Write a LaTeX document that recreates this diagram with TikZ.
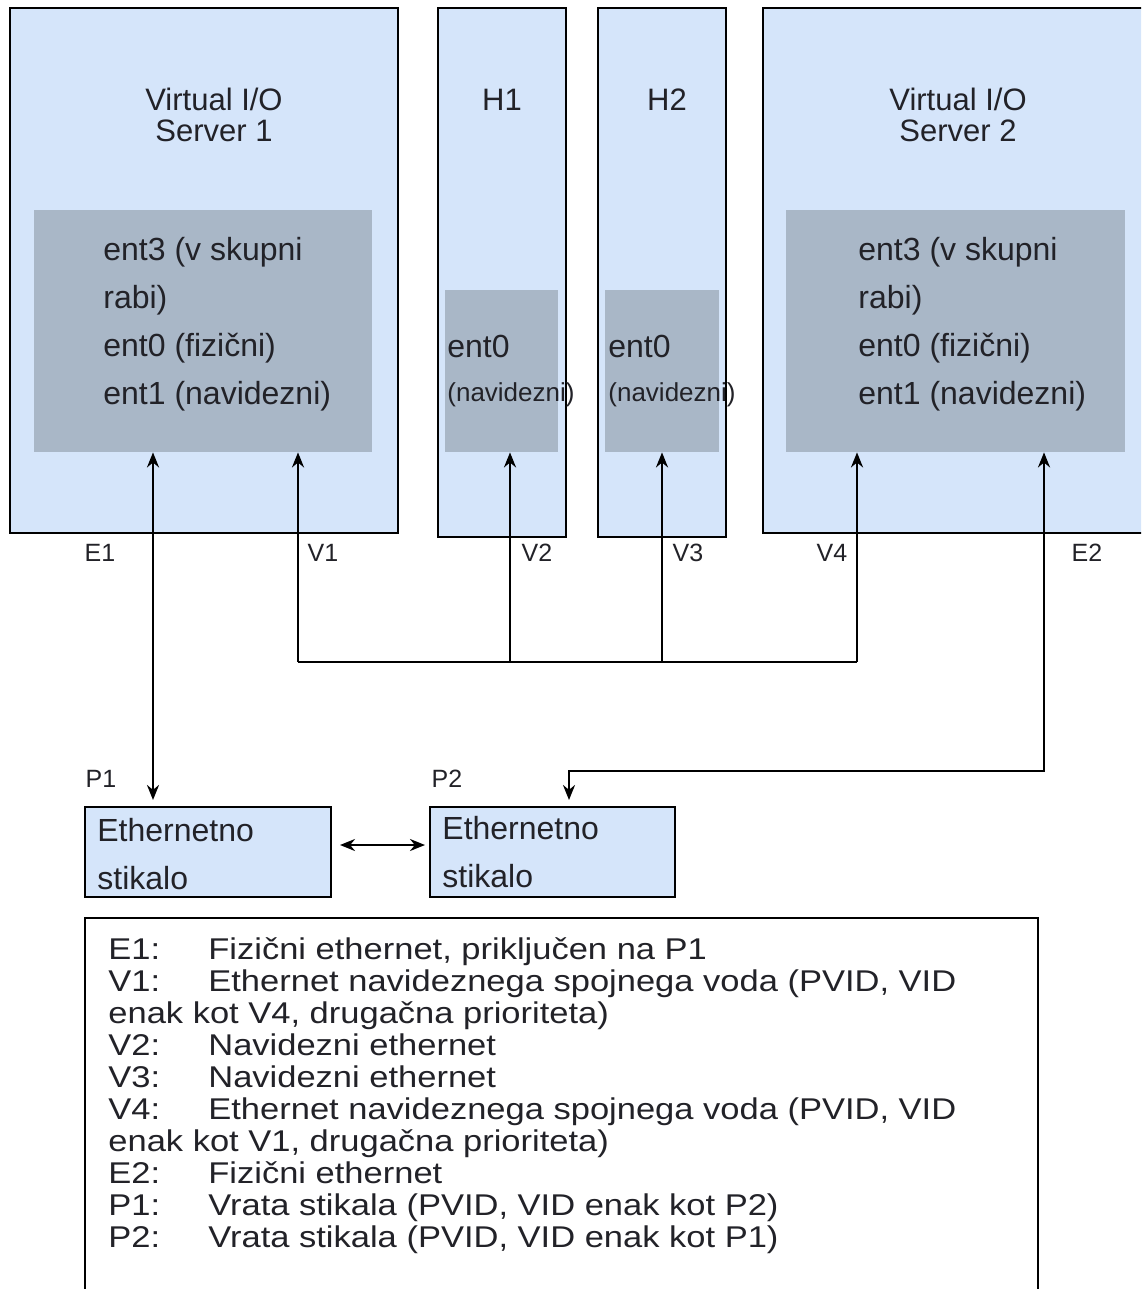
\documentclass[tikz,border=0pt]{standalone}
\usepackage{fontspec}
\setmainfont{Liberation Sans}
\newfontfamily\legfont[FakeStretch=1.15]{Liberation Sans}
\usetikzlibrary{arrows.meta, positioning}
\definecolor{viosblue}{HTML}{D5E5FA}
\definecolor{entgrey}{HTML}{A9B7C7}
\definecolor{ink}{HTML}{222228}
\newcommand{\legkey}[1]{\makebox[50pt][l]{#1}}

\begin{document}
\begin{tikzpicture}[
    x=0.5pt, y=-0.5pt,
    box/.style={draw=black, fill=viosblue, line width=1pt, inner sep=0pt},
    ent/.style={fill=entgrey, inner sep=0pt},
    title/.style={align=center, text=ink, font=\fontsize{15.5}{15.5}\selectfont},
    enttxt/.style={align=left, text=ink, inner sep=0pt, font=\fontsize{16}{24}\selectfont},
    port/.style={text=ink, inner sep=0pt, font=\fontsize{12.5}{13}\selectfont},
    arr/.style={-{Stealth[length=7.5pt, width=6pt]}, line width=1.2pt},
    darr/.style={{Stealth[length=7.5pt, width=6pt]}-{Stealth[length=7.5pt, width=6pt]}, line width=1.2pt},
]
\useasboundingbox (0,0) rectangle (1141,1289);
\clip (0,0) rectangle (1141,1289);

% partitions
\node[box, minimum width=194pt, minimum height=262.5pt] (vios1) at (204,270.5) {};
\node[box, minimum width=64pt, minimum height=264.5pt] (h1) at (502,272.5) {};
\node[box, minimum width=64pt, minimum height=264.5pt] (h2) at (662,272.5) {};
\node[box, minimum width=193.5pt, minimum height=262.5pt] (vios2) at (956.5,270.5) {};

\node[ent, minimum width=169pt, minimum height=121pt] (g1) at (203,331) {};
\node[ent, minimum width=56.5pt, minimum height=81pt] (gh1) at (501.5,371) {};
\node[ent, minimum width=57pt, minimum height=81pt] (gh2) at (662,371) {};
\node[ent, minimum width=169.5pt, minimum height=121pt] (g2) at (955.5,331) {};

\node[title] (t1) at (214,115) {Virtual I/O\\Server 1};
\node[title] (th1) at (502,100) {H1};
\node[title] (th2) at (667,100) {H2};
\node[title] (t2) at (958,115) {Virtual I/O\\Server 2};

\node[enttxt, anchor=west] (x1) at (103,324) {ent3 (v skupni\\rabi)\\ent0 (fizični)\\ent1 (navidezni)};
\node[enttxt, anchor=west] (x2) at (858,324) {ent3 (v skupni\\rabi)\\ent0 (fizični)\\ent1 (navidezni)};
\node[enttxt, anchor=west] (xh1) at (447,346) {ent0};
\node[enttxt, anchor=west, font=\fontsize{13}{13}\selectfont] (xh1b) at (447,395) {(navidezni)};
\node[enttxt, anchor=west] (xh2) at (608,346) {ent0};
\node[enttxt, anchor=west, font=\fontsize{13}{13}\selectfont] (xh2b) at (608,395) {(navidezni)};

% port labels
\node[port] (le1) at (100,553) {E1};
\node[port] (lv1) at (323,553) {V1};
\node[port] (lv2) at (537,553) {V2};
\node[port] (lv3) at (688,553) {V3};
\node[port] (lv4) at (832,553) {V4};
\node[port] (le2) at (1087,553) {E2};

% switches
\node[box, minimum width=123pt, minimum height=45pt] (sw1) at (208,852) {};
\node[box, minimum width=122.5pt, minimum height=45pt] (sw2) at (552.5,852) {};
\node[enttxt, anchor=west] (s1txt) at (97,854) {Ethernetno\\stikalo};
\node[enttxt, anchor=west] (s2txt) at (442,852) {Ethernetno\\stikalo};
\node[port] (lp1) at (101,779) {P1};
\node[port] (lp2) at (447,779) {P2};

% connectors
\coordinate (e1) at (153,662);
\coordinate (v1) at (298,662);
\coordinate (v2) at (510,662);
\coordinate (v3) at (662,662);
\coordinate (v4) at (857,662);
\coordinate (e2) at (1044,771);
\coordinate (p2) at (569,771);
\draw[darr, shorten >=3pt] (e1 |- g1.south) -- (e1 |- sw1.north);
\draw[arr] (v1) -- (v1 |- g1.south);
\draw[arr] (v2) -- (v2 |- gh1.south);
\draw[arr] (v3) -- (v3 |- gh2.south);
\draw[arr] (v4) -- (v4 |- g2.south);
\draw[line width=1.2pt] (v1) -- (v4);
\draw[darr, shorten >=3pt] (e2 |- g2.south) -- (e2) -- (p2) -- (p2 |- sw2.north);
\draw[darr, shorten <=4pt, shorten >=2pt] ([yshift=3.5pt]sw1.east) -- ([yshift=3.5pt]sw2.west);

% legend
\node[draw=black, line width=1pt, minimum width=476.5pt, minimum height=191pt] (legend) at (561.5,1109) {};
\node[anchor=north west, align=left, inner sep=0pt, text=ink, font=\legfont\fontsize{15}{16}\selectfont] (legtxt) at (108,937) {%
\legkey{E1:}Fizični ethernet, priključen na P1\\
\legkey{V1:}Ethernet navideznega spojnega voda (PVID, VID\\
enak kot V4, drugačna prioriteta)\\
\legkey{V2:}Navidezni ethernet\\
\legkey{V3:}Navidezni ethernet\\
\legkey{V4:}Ethernet navideznega spojnega voda (PVID, VID\\
enak kot V1, drugačna prioriteta)\\
\legkey{E2:}Fizični ethernet\\
\legkey{P1:}Vrata stikala (PVID, VID enak kot P2)\\
\legkey{P2:}Vrata stikala (PVID, VID enak kot P1)};
\end{tikzpicture}
\end{document}
